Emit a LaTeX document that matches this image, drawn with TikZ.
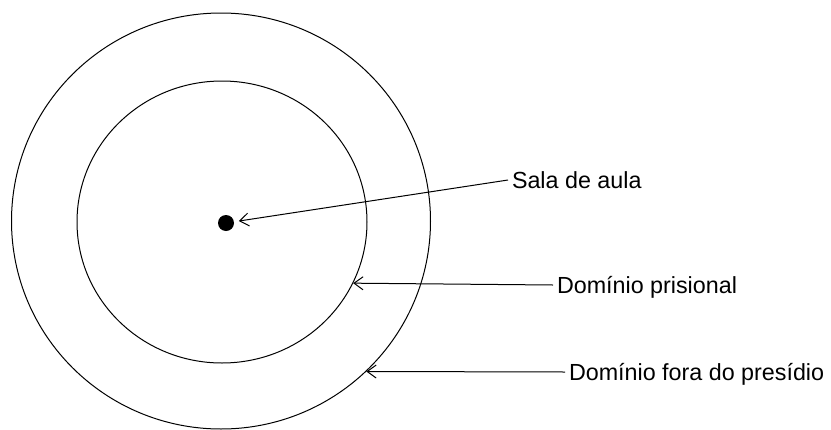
\documentclass[tikz,border=0pt]{standalone}
\usepackage{fontspec}
\setmainfont{Liberation Sans}
\usepackage{xcolor}
\usetikzlibrary{arrows.meta,shapes.geometric}

\begin{document}
\begin{tikzpicture}[x=1pt,y=-1pt,font=\fontsize{23.3}{28}\selectfont,line width=1pt,
 ring/.style={draw,ellipse,inner sep=0pt},
 label/.style={anchor=west,inner sep=3.5pt,text height=16.7pt,text depth=0pt},
 >={Straight Barb[length=9pt,width=13pt,line width=1pt]}]
\useasboundingbox (0,0) rectangle (831,429);
\node[ring,minimum width=419pt,minimum height=416pt] (outer) at (221,221) {};
\node[ring,minimum width=290pt,minimum height=282pt] (inner) at (222,222) {};
\node[circle,fill=black,minimum size=16pt,inner sep=0pt,outer sep=5pt] (sala) at (226,223) {};
\node[label] (salatxt) at (508,180) {Sala de aula};
\node[label] (prisional) at (553,285) {Domínio prisional};
\node[label] (fora) at (565,372) {Domínio fora do presídio};
\draw[->] (salatxt.west)--(sala);
\draw[->] (prisional.west)--(inner.-25.9);
\draw[->] (fora.west)--(outer.-46);
\end{tikzpicture}
\end{document}
